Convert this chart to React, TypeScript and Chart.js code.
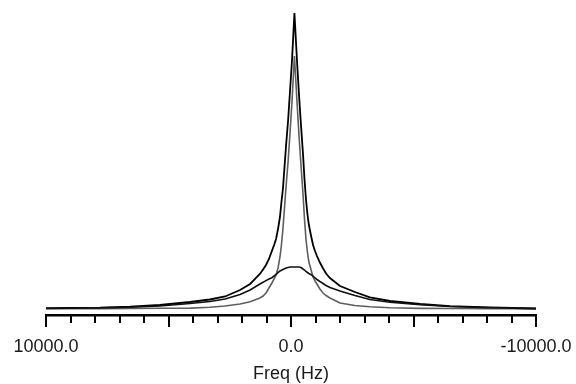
import React, { useEffect, useRef } from "react";
import { Chart, registerables } from "chart.js";

Chart.register(...registerables);

// Frequency axis (Hz), reversed like an NMR spectrum
const freqHz = [
  10000, 9020, 7800, 6570, 5350, 4120, 3310, 2690, 2080, 1670, 1270, 1140, 1020,
  900, 780, 690, 610, 530, 450, 390, 330, 200, 120, 40, -40, -140, -250, -330,
  -410, -490, -550, -610, -670, -730, -820, -900, -980, -1060, -1180, -1310,
  -1430, -1590, -2000, -2610, -3220, -4040, -5270, -6490, -8120, -10000,
];

// Total spectrum (sum of components)
const totalSignal = [
  0.8, 1, 1.3, 2.3, 4, 7, 9.5, 12.5, 19, 25, 35, 39.5, 44, 50, 58, 64, 70, 80,
  92, 107, 120, 164, 188, 218, 248, 296, 246, 213, 183, 155, 130, 110, 95, 84,
  73, 64, 58, 53, 46.5, 40.5, 35.5, 31, 23, 17, 11.7, 8, 5, 2.8, 1.5, 0.5,
];

// Narrow component
const narrowSignal = [
  0.3, 0.3, 0.4, 0.5, 0.7, 0.9, 1.8, 3, 5, 7.3, 11, 13, 16, 21, 26, 30, 34, 41,
  52, 64, 80, 123, 147, 176, 207, 253, 205, 172, 143, 115, 90, 70, 57, 47, 39,
  32, 28, 25, 20, 16, 13.5, 11, 6, 3.5, 2.2, 1.2, 0.6, 0.5, 0.4, 0.3,
];

// Broad component
const broadSignal = [
  0.5, 0.8, 1.1, 1.8, 3, 5.5, 7.5, 10, 14.5, 19, 25, 26.7, 28.4, 30, 31.3, 33,
  34.5, 36.3, 38, 38.8, 39.5, 41, 41.5, 42, 42, 42, 42, 42, 41.5, 40, 39, 37.5,
  36.5, 35.5, 34.3, 33, 31, 29.5, 27.5, 25.5, 23.5, 21.5, 18, 13.5, 9.5, 6.8,
  4.3, 2.5, 1.3, 0.4,
];

const labeledTicks = [10000, 0, -10000];
const xAxisTitle = "Freq (Hz)";

const FONT = "'Liberation Sans', Arial, sans-serif";

const toPoints = (ys: number[]) => freqHz.map((x, i) => ({ x, y: ys[i] }));

// Draw major (long) and minor (short) tick marks from the x scale's own ticks
const tickMarksPlugin = {
  id: "tickMarks",
  afterDraw(chart: any) {
    const xs = chart.scales.x;
    const ctx = chart.ctx;
    const y0 = xs.top;
    ctx.save();
    ctx.strokeStyle = "#000";
    ctx.lineWidth = 2;
    for (const t of xs.ticks) {
      const major = t.value % 5000 === 0;
      const px = Math.round(xs.getPixelForValue(t.value));
      ctx.beginPath();
      ctx.moveTo(px, y0);
      ctx.lineTo(px, y0 + (major ? 12 : 8));
      ctx.stroke();
    }
    ctx.restore();
  },
};

export default function App() {
  const ref = useRef<HTMLCanvasElement | null>(null);

  useEffect(() => {
    if (!ref.current) return;
    const chart = new Chart(ref.current, {
      type: "line",
      data: {
        datasets: [
          {
            label: "Broad",
            data: toPoints(broadSignal),
            borderColor: "#111",
            borderWidth: 1.6,
            pointRadius: 0,
            tension: 0,
          },
          {
            label: "Narrow",
            data: toPoints(narrowSignal),
            borderColor: "#5e5e5e",
            borderWidth: 1.6,
            pointRadius: 0,
            tension: 0,
          },
          {
            label: "Total",
            data: toPoints(totalSignal),
            borderColor: "#000",
            borderWidth: 1.8,
            pointRadius: 0,
            tension: 0,
          },
        ],
      },
      options: {
        responsive: false,
        animation: false,
        events: [],
        layout: { padding: { left: 46, right: 40, top: 8, bottom: 0 } },
        plugins: {
          legend: { display: false },
          tooltip: { enabled: false },
        },
        scales: {
          x: {
            type: "linear",
            reverse: true,
            min: -10000,
            max: 10000,
            afterFit: (s: any) => {
              s.height = 69;
            },
            border: { display: true, color: "#000", width: 2.5 },
            grid: {
              display: true,
              drawOnChartArea: false,
              drawTicks: true,
              tickLength: 18,
              tickWidth: 0,
              tickColor: "rgba(0,0,0,0)",
            },
            ticks: {
              stepSize: 1000,
              autoSkip: false,
              maxRotation: 0,
              padding: 3,
              color: "#1a1a1a",
              font: { family: FONT, size: 18 },
              callback: (v: any) =>
                labeledTicks.includes(Number(v)) ? Number(v).toFixed(1) : "",
            },
            title: {
              display: true,
              text: xAxisTitle,
              color: "#1a1a1a",
              font: { family: FONT, size: 18 },
              padding: { top: 0, bottom: -1 },
            },
          },
          y: {
            display: false,
            min: -6,
            max: 301,
          },
        },
      },
      plugins: [tickMarksPlugin],
    });
    return () => chart.destroy();
  }, []);

  return (
    <div style={{ position: "fixed", left: 0, top: 0, width: 576, height: 384, background: "#fff" }}>
      <canvas ref={ref} width={576} height={384} />
    </div>
  );
}
